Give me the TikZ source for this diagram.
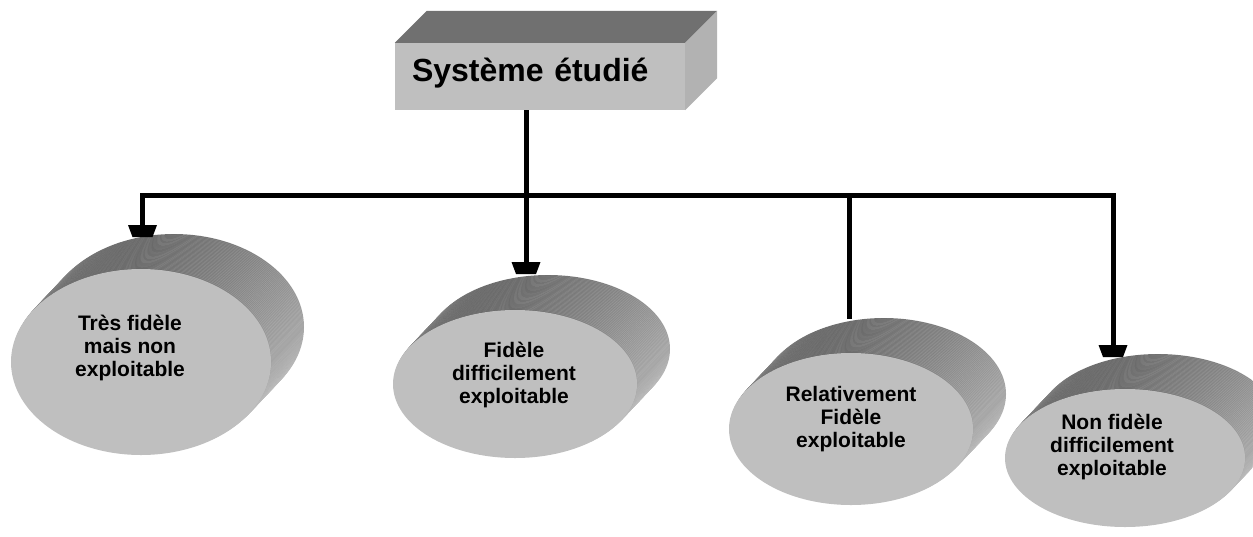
\documentclass[tikz,border=0pt]{standalone}
\usepackage{fontspec}
\setmainfont{Liberation Sans}
\usetikzlibrary{shapes.geometric}

% flat-nosed arrow head
\pgfdeclarearrow{
  name = Trap,
  setup code = {
    \pgfarrowssettipend{0pt}
    \pgfarrowssetlineend{-6pt}
    \pgfarrowssetvisualbackend{-12pt}
    \pgfarrowssetbackend{-12pt}
    \pgfarrowsupperhullpoint{0pt}{10pt}
    \pgfarrowsupperhullpoint{-12pt}{14.5pt}
  },
  drawing code = {
    \pgfpathmoveto{\pgfqpoint{0pt}{10pt}}
    \pgfpathlineto{\pgfqpoint{-12pt}{14.5pt}}
    \pgfpathlineto{\pgfqpoint{-12pt}{-14.5pt}}
    \pgfpathlineto{\pgfqpoint{0pt}{-10pt}}
    \pgfpathclose
    \pgfusepathqfill
  }
}

\tikzset{
  wire/.style={line width=5pt, line join=miter},
  sysbox/.style={fill=black!25, minimum width=290pt, minimum height=67pt,
    inner xsep=17pt, inner ysep=0pt, text width=256pt, align=left,
    text height=22pt, text depth=11.6pt,
    font=\bfseries\fontsize{32}{38}\selectfont},
  boxtop/.style={fill=black!56},
  boxside/.style={fill=black!30},
  side/.style={top color=black!66, bottom color=black!34, shading angle=45,
    draw=white, draw opacity=0.18, line width=0.4pt},
  face/.style={ellipse, fill=black!25, inner sep=0pt},
  lbl/.style={align=center, inner sep=0pt, font=\bfseries\fontsize{21}{23}\selectfont}
}

\begin{document}
\begin{tikzpicture}[x=1pt,y=-1pt]
\useasboundingbox (0,0) rectangle (1253,536);
\clip (0,0) rectangle (1253,536);

% the studied system
\node [sysbox] (sys) at (540,76.5) {Système étudié};
\fill [boxtop] (sys.north west) -- ++(32,-32) -- ([shift={(32,-32)}]sys.north east) -- (sys.north east) -- cycle;
\fill [boxside] (sys.north east) -- ++(32,-32) -- ([shift={(32,-32)}]sys.south east) -- (sys.south east) -- cycle;

% models as extruded discs
\foreach \cx/\cy/\rx/\ry/\nm in {141/362/130/93/f1, 515/384/122/74/f2, 851/429/122/76/f3, 1125/458/120/69/f4}{
  \foreach \k in {33,32,...,1}
    \path [side] (\cx+\k,\cy-1.06*\k) ellipse [x radius={\rx*1pt}, y radius={\ry*1pt}];
  \node [face, minimum width={2*\rx*1pt}, minimum height={2*\ry*1pt}] (\nm) at (\cx,\cy) {};
}

\node [lbl] (t1) at (130,348)   {Très fidèle\\mais non\\exploitable};
\node [lbl] (t2) at (514,374.5) {Fidèle\\difficilement\\exploitable};
\node [lbl] (t3) at (851,419.5) {Relativement\\Fidèle\\exploitable};
\node [lbl] (t4) at (1112,447)  {Non fidèle\\difficilement\\exploitable};

% connectors
\coordinate (bus) at (526,195.5);
\coordinate (in1) at (142.5,237);
\coordinate (in2) at (526,274);
\coordinate (in3) at (849,319);
\coordinate (in4) at (1113,357);

\draw [wire,-Trap] (bus) -| (in1);
\draw [wire,-Trap] (bus) -| (in4);
\draw [wire,-Trap] (sys.south -| in2) -- (in2);
\draw [wire] (bus -| in3) -- (in3);

\end{tikzpicture}
\end{document}
